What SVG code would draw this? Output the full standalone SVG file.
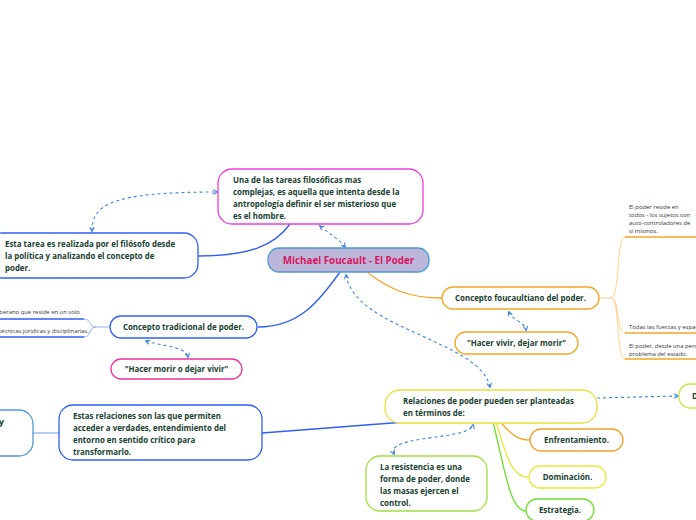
<svg xmlns="http://www.w3.org/2000/svg" width="696" height="520" viewBox="0 0 696 520">
<defs>
<marker id="ah" viewBox="0 0 10 10" refX="8" refY="5" markerWidth="5" markerHeight="5" orient="auto-start-reverse">
<path d="M1,1 L9,5 L1,9" fill="none" stroke="#3b82e0" stroke-width="2"/>
</marker>
<style>
.t{font-family:"Open Sans","Noto Sans",sans-serif;font-weight:bold;font-size:7.9px;fill:#17402f}
.s{font-family:"Open Sans","Noto Sans",sans-serif;font-size:5.9px;fill:#333}
.n{fill:#fff;stroke-width:1.3}
.d{fill:none;stroke:#3b82e0;stroke-width:1.1;stroke-dasharray:3,3;marker-start:url(#ah);marker-end:url(#ah)}
.c{fill:none;stroke-width:1.3}
</style>
</defs>
<rect width="696" height="520" fill="#fff"/>
<g id="connectors">
<path class="c" stroke="#2f5ff0" d="M198,256 C250,256 275,245 290,224"/>
<path class="c" stroke="#2f5ff0" d="M340,272 C320,300 300,327 258,327"/>
<path class="c" stroke="#f5a623" d="M367,272 C390,290 410,298 442,298"/>
<path class="c" stroke="#2f5ff0" d="M262,433 L405,422"/>
<path class="c" stroke="#8bb5ee" d="M33,433 L59,433"/>
<path class="c" stroke="#f5a623" d="M500,422 C510,432 515,440 530,440"/>
<path class="c" stroke="#e4ec3a" d="M496,422 C505,450 510,477 528,477"/>
<path class="c" stroke="#6ee030" d="M493,422 C505,470 510,511 526,511"/>
<path fill="none" stroke="#ffd28a" stroke-width="1" d="M599,298 L611,298 C620,298 616,237 625,237"/>
<path fill="none" stroke="#f5a623" stroke-width="1.3" d="M625,237 L696,237"/>
<path fill="none" stroke="#ffd28a" stroke-width="1" d="M611,298 C620,298 616,333 625,333"/>
<path fill="none" stroke="#f5a623" stroke-width="1.3" d="M625,333 L696,333"/>
<path fill="none" stroke="#ffd28a" stroke-width="1" d="M611,298 C620,298 616,359 625,359"/>
<path fill="none" stroke="#f5a623" stroke-width="1.3" d="M625,359 L696,359"/>
<path fill="none" stroke="#8bb5ee" stroke-width="1" d="M110,327 L96,327 C88,327 92,319 84,319"/>
<path fill="none" stroke="#2f5ff0" stroke-width="1.3" d="M84,319 L0,319"/>
<path fill="none" stroke="#8bb5ee" stroke-width="1" d="M96,327 C88,327 92,337 84,337"/>
<path fill="none" stroke="#2f5ff0" stroke-width="1.3" d="M84,337 L0,337"/>
<path class="d" d="M92,231 C92,205 110,192 217,192"/>
<path class="d" d="M320,226 C330,234 340,240 345,247"/>
<path class="d" d="M346,275 C355,330 480,340 490,387"/>
<path class="d" d="M509,312 C512,320 525,322 526,330"/>
<path class="d" d="M146,341 C160,346 186,346 188,357"/>
<path class="d" d="M394,454 C385,435 470,440 473,425"/>
<path class="d" style="marker-start:none" d="M597,398 L678,396"/>
</g>
<g id="central">
<rect x="268" y="248" width="161" height="24" rx="11" fill="#bdb6db" stroke="#4f9bd8" stroke-width="1.3"/>
<text x="348.5" y="264" text-anchor="middle" font-family="Open Sans,Noto Sans,sans-serif" font-weight="bold" font-size="9.8" fill="#d9165f">Michael Foucault - El Poder</text>
</g>
<g id="una">
<rect class="n" x="218" y="169" width="205" height="55" rx="14" stroke="#f03ce0"/>
<text class="t" x="233" y="183">Una de las tareas filosóficas mas</text>
<text class="t" x="233" y="195">complejas, es aquella que intenta desde la</text>
<text class="t" x="233" y="207">antropología definir el ser misterioso que</text>
<text class="t" x="233" y="219">es el hombre.</text>
</g>
<g id="esta">
<rect class="n" x="-12" y="233" width="210" height="45" rx="14" stroke="#2f5ff0"/>
<text class="t" x="5" y="247">Esta tarea es realizada por el filósofo desde</text>
<text class="t" x="5" y="259">la política y analizando el concepto de</text>
<text class="t" x="5" y="271">poder.</text>
</g>
<g id="tradicional">
<rect class="n" x="110" y="316" width="147" height="22" rx="11" stroke="#2f5ff0"/>
<text class="t" x="183.5" y="330" text-anchor="middle">Concepto tradicional de poder.</text>
<text class="s" x="-7" y="314">soberano que reside en un solo</text>
<text class="s" x="-1" y="333">técnicas jurídicas y disciplinarias.</text>
</g>
<g id="morir">
<rect class="n" x="111" y="359" width="131" height="20" rx="10" stroke="#e8339a"/>
<text class="t" x="176.5" y="372" text-anchor="middle">"Hacer morir o dejar vivir"</text>
</g>
<g id="foucaultiano">
<rect class="n" x="442" y="287" width="157" height="22" rx="11" stroke="#f5a623"/>
<text class="t" x="520.5" y="301" text-anchor="middle">Concepto foucaultiano del poder.</text>
<text class="s" x="629" y="209">El poder reside en</text>
<text class="s" x="629" y="217">todos - los sujetos son</text>
<text class="s" x="629" y="225">auto-controladores de</text>
<text class="s" x="629" y="233">si mismos.</text>
<text class="s" x="629" y="329">Todas las fuerzas y espacios</text>
<text class="s" x="629" y="348">El poder, desde una persona</text>
<text class="s" x="629" y="356">problema del estado.</text>
</g>
<g id="vivir">
<rect class="n" x="455" y="332" width="123" height="22" rx="11" stroke="#f5a623"/>
<text class="t" x="516.5" y="346" text-anchor="middle">"Hacer vivir, dejar morir"</text>
</g>
<g id="estas">
<rect class="n" x="59" y="405" width="203" height="55" rx="14" stroke="#2f5ff0"/>
<text class="t" x="73" y="419">Estas relaciones son las que permiten</text>
<text class="t" x="73" y="431">acceder a verdades, entendimiento del</text>
<text class="t" x="73" y="443">entorno en sentido crítico para</text>
<text class="t" x="73" y="455">transformarlo.</text>
</g>
<g id="left-partial">
<rect class="n" x="-50" y="410" width="83" height="46" rx="14" stroke="#4f9bd8"/>
<text x="4" y="425" text-anchor="end" font-family="Open Sans,Noto Sans,sans-serif" font-weight="bold" font-size="9.4" fill="#17402f">y</text>
</g>
<g id="relaciones">
<rect class="n" x="385" y="390" width="212" height="33" rx="15" stroke="#e8e23a"/>
<text class="t" x="403" y="404">Relaciones de poder pueden ser planteadas</text>
<text class="t" x="403" y="416">en términos de:</text>
</g>
<g id="d-node">
<rect class="n" x="679" y="384" width="40" height="24" rx="11" stroke="#c8ea4a"/>
<text class="t" x="692" y="399">D</text>
</g>
<g id="enfrentamiento">
<rect class="n" x="530" y="429" width="93" height="22" rx="11" stroke="#f5a030"/>
<text class="t" x="576.5" y="443" text-anchor="middle">Enfrentamiento.</text>
</g>
<g id="dominacion">
<rect class="n" x="529" y="466" width="77" height="22" rx="11" stroke="#e4ec3a"/>
<text class="t" x="567.5" y="480" text-anchor="middle">Dominación.</text>
</g>
<g id="estrategia">
<rect class="n" x="526" y="499" width="68" height="22" rx="11" stroke="#6ee030"/>
<text class="t" x="560" y="513" text-anchor="middle">Estrategia.</text>
</g>
<g id="resistencia">
<rect class="n" x="366" y="456" width="121" height="55" rx="14" stroke="#a0e040"/>
<text class="t" x="380" y="470">La resistencia es una</text>
<text class="t" x="380" y="482">forma de poder, donde</text>
<text class="t" x="380" y="494">las masas ejercen el</text>
<text class="t" x="380" y="506">control.</text>
</g>
</svg>
